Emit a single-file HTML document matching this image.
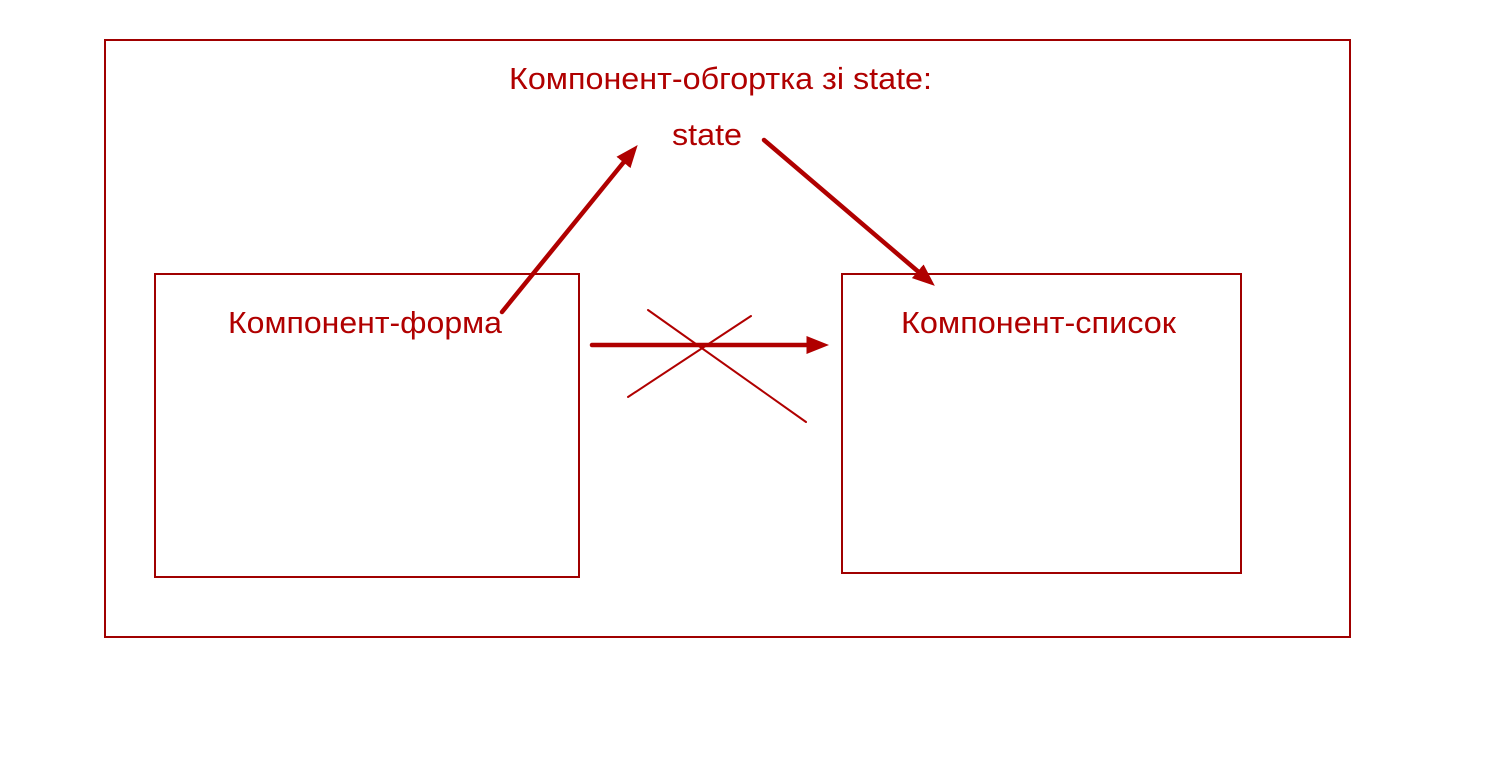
<!DOCTYPE html>
<html><head><meta charset="utf-8"><style>
html,body{margin:0;padding:0;background:#fff;}
svg{display:block;}
text{font-family:"Liberation Sans",Arial,sans-serif;fill:#b00000;}
</style></head><body>
<svg width="1497" height="772" viewBox="0 0 1497 772" xmlns="http://www.w3.org/2000/svg">
<defs>
<marker id="ah" markerWidth="5" markerHeight="4" refX="3" refY="2" orient="auto" markerUnits="strokeWidth">
<path d="M0,0 L5,2 L0,4 z" fill="#b00000"/>
</marker>
</defs>
<g fill="none" stroke="#a00000" stroke-width="2">
<rect x="105" y="40" width="1245" height="597"/>
<rect x="155" y="274" width="424" height="303"/>
<rect x="842" y="274" width="399" height="299"/>
</g>
<text x="509" y="89" font-size="31" textLength="423" lengthAdjust="spacingAndGlyphs">Компонент-обгортка зі state:</text>
<text x="672" y="145" font-size="31" textLength="70" lengthAdjust="spacingAndGlyphs">state</text>
<text x="228" y="333" font-size="31" textLength="274" lengthAdjust="spacingAndGlyphs">Компонент-форма</text>
<text x="901" y="333" font-size="31" textLength="275" lengthAdjust="spacingAndGlyphs">Компонент-список</text>
<g stroke="#b00000" stroke-linecap="round">
<line x1="502" y1="312" x2="632" y2="152" stroke-width="4.5" marker-end="url(#ah)"/>
<line x1="764" y1="140" x2="928" y2="280" stroke-width="4.5" marker-end="url(#ah)"/>
<line x1="592" y1="345" x2="820" y2="345" stroke-width="4.5" marker-end="url(#ah)"/>
<line x1="648" y1="310" x2="806" y2="422" stroke-width="2"/>
<line x1="628" y1="397" x2="751" y2="316" stroke-width="2"/>
</g>
</svg>
</body></html>
